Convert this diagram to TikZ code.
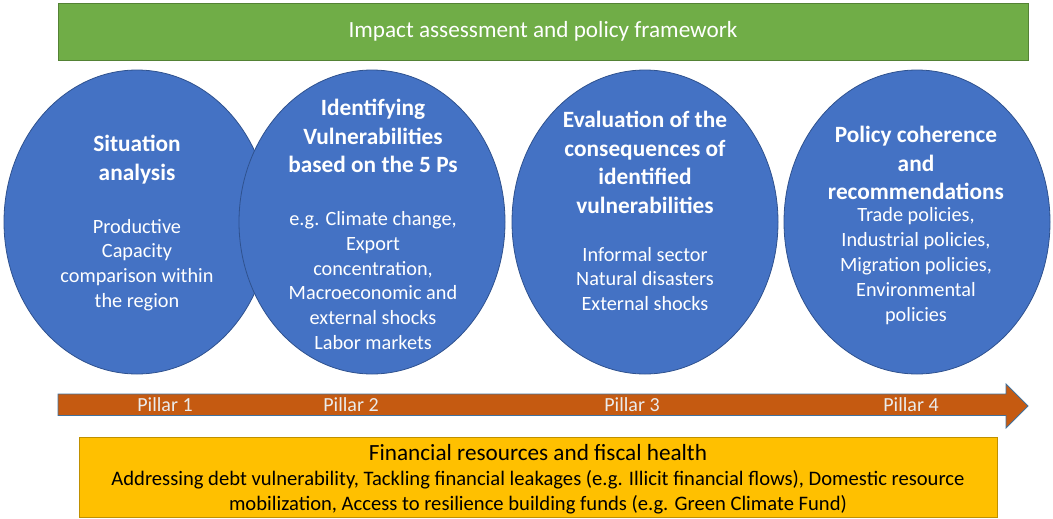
\documentclass[tikz,border=0pt]{standalone}
\usepackage{fontspec}
\setmainfont{Carlito}
\usetikzlibrary{shapes.geometric}
\definecolor{frameGreen}{HTML}{70AD47}
\definecolor{frameGreenLine}{HTML}{548235}
\definecolor{pillarBlue}{HTML}{4472C4}
\definecolor{pillarBlueLine}{HTML}{2F528F}
\definecolor{arrowOrange}{HTML}{C55A11}
\definecolor{arrowLine}{HTML}{41719C}
\definecolor{fundYellow}{HTML}{FFC000}
\definecolor{fundLine}{HTML}{BF9000}
\tikzset{
  bubble/.style={ellipse, draw=pillarBlueLine, line width=0.6pt, fill=pillarBlue,
    minimum width={266*0.75pt}, minimum height={304*0.75pt}, inner sep=0pt},
  headtext/.style={text=white, align=center, font=\fontsize{17.5}{21.5}\selectfont\bfseries, inner sep=0pt},
  bodytext/.style={text=white, align=center, font=\fontsize{15.2}{18.6}\selectfont, inner sep=0pt},
  pillarlabel/.style={text=white!92!black, font=\fontsize{15}{17}\selectfont, inner sep=0pt},
}
\begin{document}
\begin{tikzpicture}[x=0.75pt, y=-0.75pt]
\useasboundingbox (0,0) rectangle (1053,518);

% top band
\node (frame) [draw=frameGreenLine, fill=frameGreen, line width=0.6pt,
  minimum width={970*0.75pt}, minimum height={57*0.75pt}, inner sep=0pt,
  text=white, font=\fontsize{17.4}{20}\selectfont] at (543,31.5)
  {Impact assessment and policy framework};

% the four pillars, each drawn over the previous one
\node (p1) [bubble] at (137,222) {};
\node (p2) [bubble] at (372,222) {};
\node (p3) [bubble] at (645,222) {};
\node (p4) [bubble] at (917,222) {};

\node (p1h) [headtext] at (137,159.5) {Situation\\analysis};
\node (p1b) [bodytext] at (137,265) {Productive\\Capacity\\comparison within\\the region};

\node (p2h) [headtext] at (373,136) {Identifying\\Vulnerabilities\\based on the 5 Ps};
\node (p2b) [bodytext] at (373,280.5) {e.g. Climate change,\\Export\\concentration,\\Macroeconomic and\\external shocks\\Labor markets};

\node (p3h) [headtext] at (645,162.5) {Evaluation of the\\consequences of\\identified\\vulnerabilities};
\node (p3b) [bodytext] at (645,279) {Informal sector\\Natural disasters\\External shocks};

\node (p4h) [headtext] at (916,163) {Policy coherence\\and\\recommendations};
\node (p4b) [bodytext] at (916,266) {Trade policies,\\Industrial policies,\\Migration policies,\\Environmental\\policies};

% timeline arrow
\filldraw[fill=arrowOrange, draw=arrowLine, line width=0.6pt]
  (58,394) -- (1006,394) -- (1006,384) -- (1028,406) -- (1006,428)
  -- (1006,415.5) -- (58,415.5) -- cycle;
\node (l1) [pillarlabel] at (165,405) {Pillar 1};
\node (l2) [pillarlabel] at (351,405) {Pillar 2};
\node (l3) [pillarlabel] at (632,405) {Pillar 3};
\node (l4) [pillarlabel] at (911,405) {Pillar 4};

% financing band
\node (fund) [draw=fundLine, fill=fundYellow, line width=0.6pt,
  minimum width={918*0.75pt}, minimum height={80*0.75pt}, inner sep=0pt] at (538,477) {};
\node (fundt) [font=\fontsize{17.4}{20}\selectfont, inner sep=0pt] at (538,453) {Financial resources and fiscal health};
\node (fundb) [font=\fontsize{15.45}{18.7}\selectfont, align=center, inner sep=0pt] at (538,492.5)
  {Addressing debt vulnerability, Tackling financial leakages (e.g. Illicit financial flows), Domestic resource\\mobilization, Access to resilience building funds (e.g. Green Climate Fund)};
\end{tikzpicture}
\end{document}
